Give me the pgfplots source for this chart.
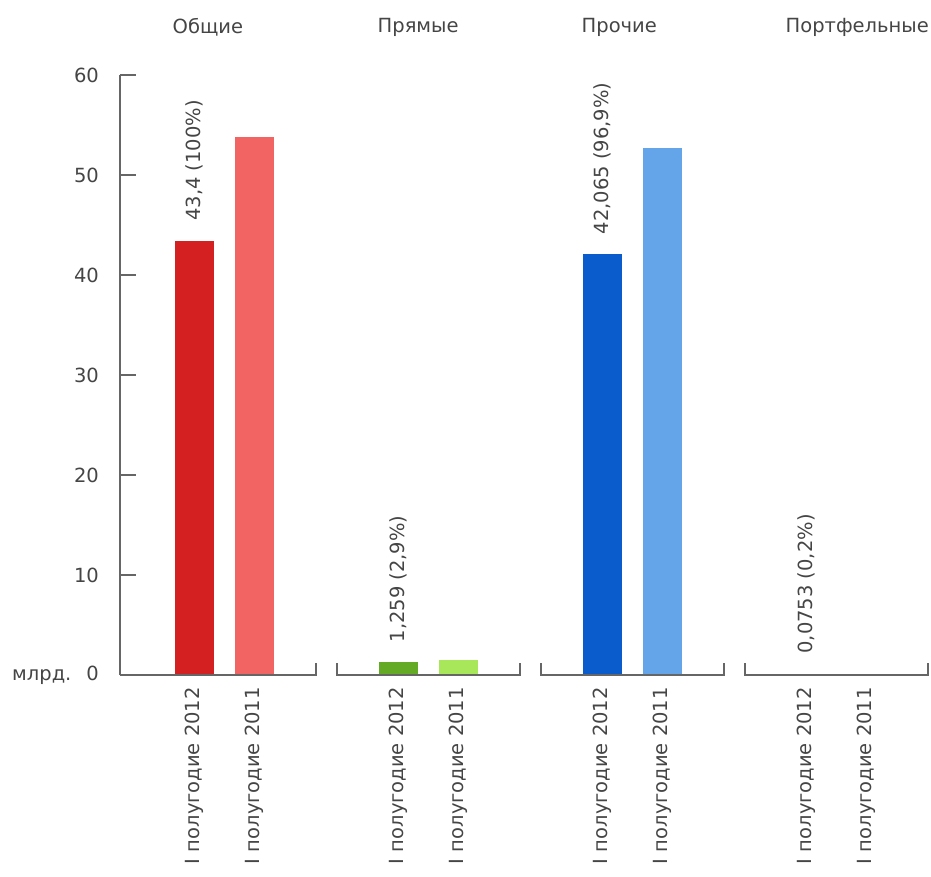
\documentclass[border=0pt]{standalone}
\usepackage{pgfplots}
\pgfplotsset{compat=1.18}
\usepackage{fontspec}
\setmainfont{DejaVu Sans}
\definecolor{txt}{HTML}{454545}
\definecolor{axc}{HTML}{666666}
\definecolor{r1}{HTML}{D42020}
\definecolor{r2}{HTML}{F26464}
\definecolor{g1}{HTML}{64AA24}
\definecolor{g2}{HTML}{A8E65A}
\definecolor{b1}{HTML}{0A5CCC}
\definecolor{b2}{HTML}{64A4E8}
\definecolor{o1}{HTML}{C89A4A}
\begin{document}
\fontsize{19.5}{23}\selectfont
\begin{tikzpicture}
\begin{axis}[
  scale only axis, width=808pt, height=600pt,
  xmin=-0.512, xmax=3.449, ymin=0, ymax=60,
  axis x line=bottom, axis y line=left,
  axis line style={-, draw=axc, line width=1.3pt},
  x axis line style={draw=none},
  clip=false,
  ytick={0,10,20,30,40,50,60},
  yticklabels={{млрд.\hspace{15pt}0},10,20,30,40,50,60},
  tick align=inside, major tick length=16pt,
  ytick style={draw=axc, line width=1.3pt},
  xtick style={draw=none},
  yticklabel style={anchor=east, inner sep=0pt, xshift=-21pt, text=txt},
  xtick={-0.147,0.147,0.853,1.147,1.853,2.147,2.853,3.147},
  xticklabels={I полугодие 2012,I полугодие 2011,I полугодие 2012,I полугодие 2011,I полугодие 2012,I полугодие 2011,I полугодие 2012,I полугодие 2011},
  xticklabel style={rotate=90, anchor=east, inner xsep=12pt, inner ysep=0pt, text=txt},
  lbl/.style={nodes near coords, point meta=explicit symbolic,
    every node near coord/.append style={rotate=90, anchor=west, inner xsep=20pt, inner ysep=0pt, text=txt}},
  barst/.style={ybar, bar width=39pt, bar shift=0pt, draw=none},
]
% 2012 bars with labels
\addplot[barst, fill=r1, lbl] coordinates {(-0.147,43.4) [43,4 (100\%)]};
\addplot[barst, fill=g1, lbl] coordinates {(0.853,1.259) [1,259 (2,9\%)]};
\addplot[barst, fill=b1, lbl] coordinates {(1.853,42.065) [42,065 (96,9\%)]};
\addplot[barst, fill=o1, draw=o1, line width=1.5pt, lbl] coordinates {(2.853,0.0753) [0,0753 (0,2\%)]};
% 2011 bars
\addplot[barst, fill=r2] coordinates {(0.147,53.8)};
\addplot[barst, fill=g2] coordinates {(1.147,1.5)};
\addplot[barst, fill=b2] coordinates {(2.147,52.7)};
\addplot[barst, fill=o1] coordinates {(3.147,0)};
% group baselines
\addplot[axc, line width=1.3pt, no marks] coordinates {(-0.512,0) (0.4485,0) (0.4485,1.2)};
\addplot[axc, line width=1.3pt, no marks] coordinates {(0.5515,1.2) (0.5515,0) (1.4485,0) (1.4485,1.2)};
\addplot[axc, line width=1.3pt, no marks] coordinates {(1.5515,1.2) (1.5515,0) (2.4485,0) (2.4485,1.2)};
\addplot[axc, line width=1.3pt, no marks] coordinates {(2.5515,1.2) (2.5515,0) (3.4485,0) (3.4485,1.2)};
% group titles
\node[anchor=west, inner sep=0pt, text=txt] at (axis cs:-0.255,64.8) {Общие};
\node[anchor=west, inner sep=0pt, text=txt] at (axis cs:0.75,64.8) {Прямые};
\node[anchor=west, inner sep=0pt, text=txt] at (axis cs:1.75,64.8) {Прочие};
\node[anchor=west, inner sep=0pt, text=txt] at (axis cs:2.75,64.8) {Портфельные};
\path (axis cs:-1.1005,-18.7) rectangle (axis cs:3.4632,67.5);
\end{axis}
\end{tikzpicture}
\end{document}
